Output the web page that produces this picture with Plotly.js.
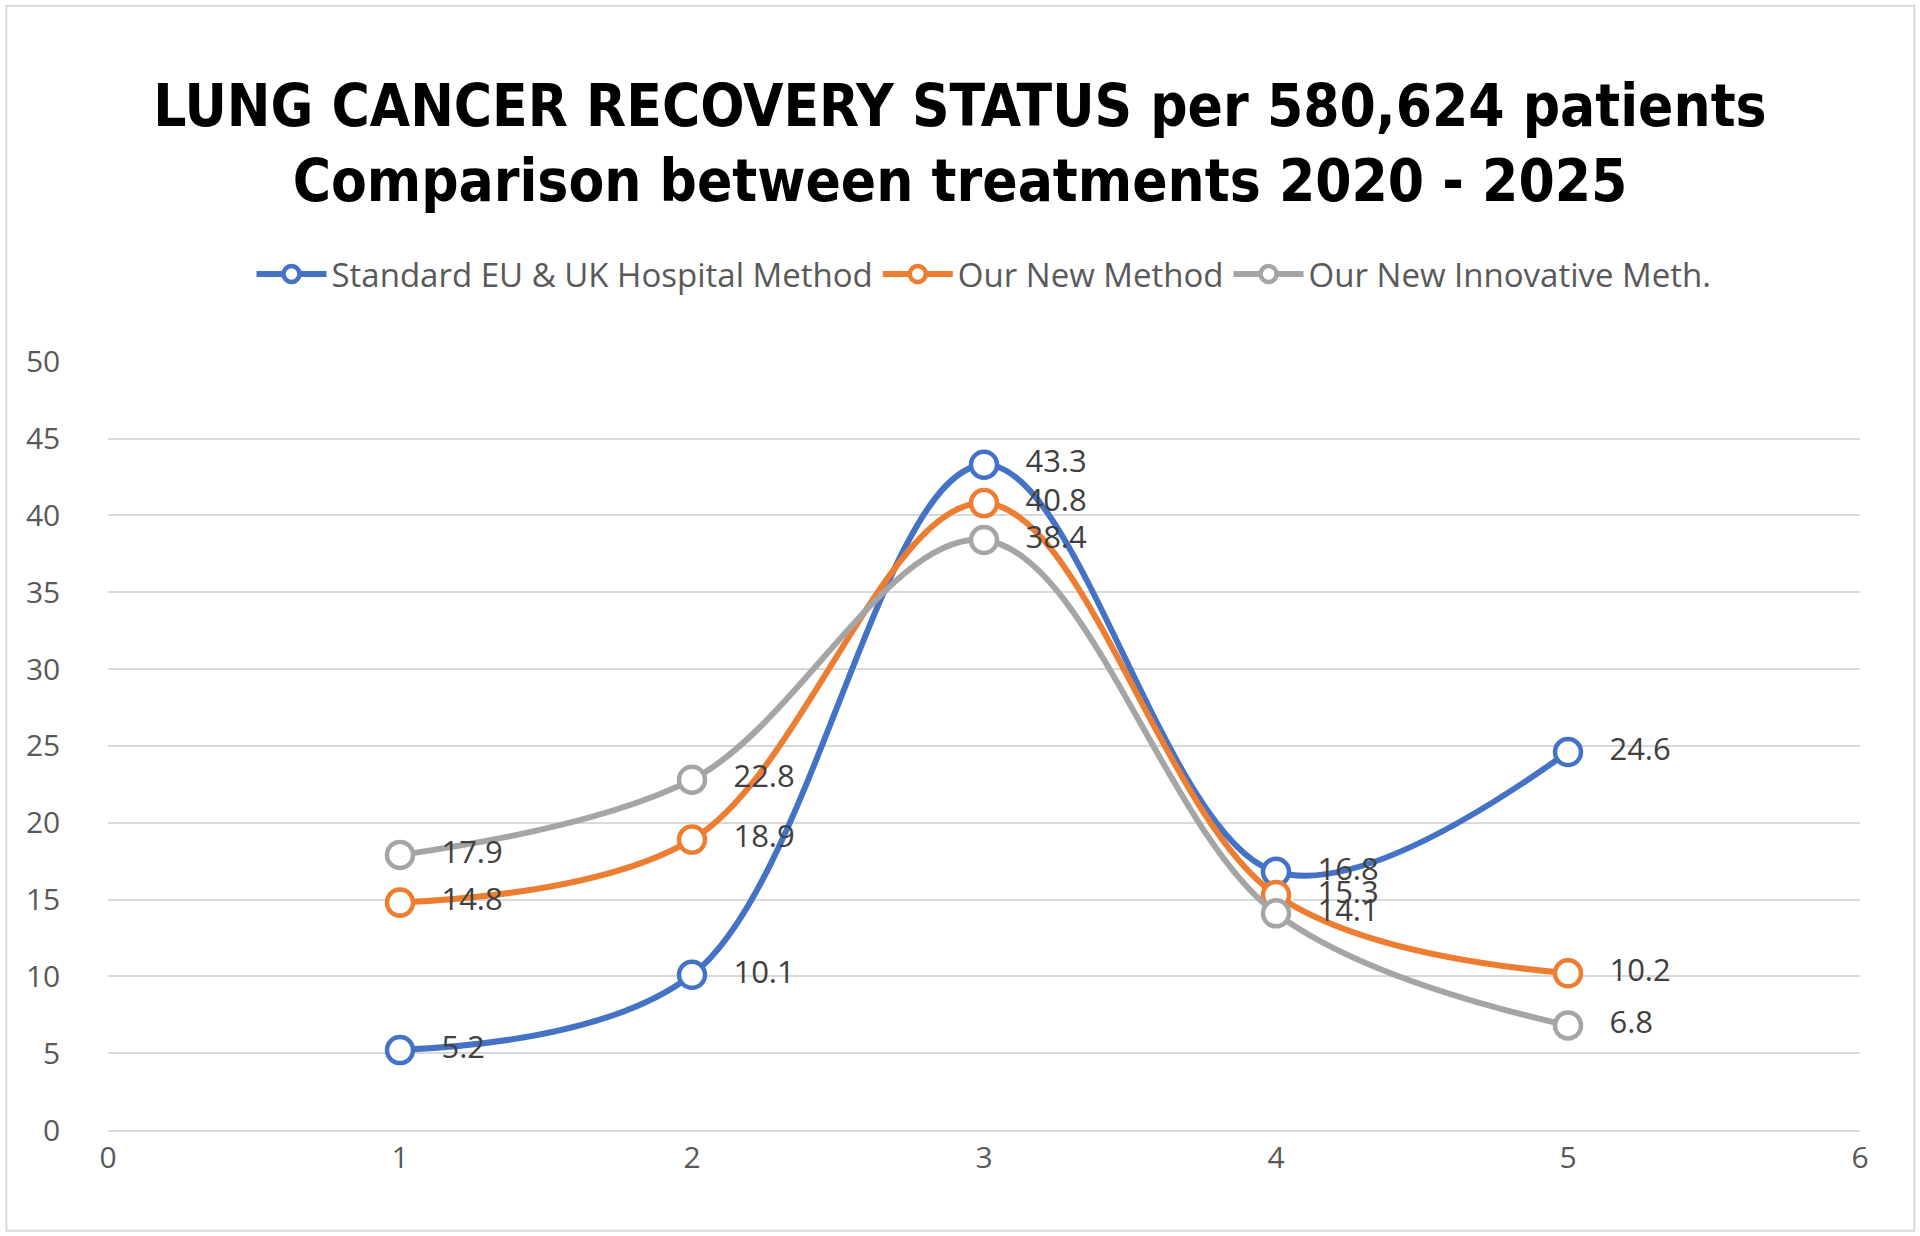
<!DOCTYPE html>
<html>
<head>
<meta charset="utf-8">
<script src="https://cdn.plot.ly/plotly-3.0.1.min.js"></script>
<style>html,body{margin:0;padding:0;background:#fff}#chart{width:1920px;height:1236px}</style>
</head>
<body>
<div id="chart"></div>
<script>
// datos del grafico
const puntosX = [1, 2, 3, 4, 5];
const metodoEstandar = [5.2, 10.1, 43.3, 16.8, 24.6];
const metodoNuevo = [14.8, 18.9, 40.8, 15.3, 10.2];
const metodoInnovador = [17.9, 22.8, 38.4, 14.1, 6.8];
const nombresSeries = ['Standard EU & UK Hospital Method', 'Our New Method', 'Our New Innovative Meth.'];
const coloresSeries = ['#4472C4', '#ED7D31', '#A5A5A5'];

function crearSerie(valores, i) {
    return {
        x: puntosX,
        y: valores,
        name: nombresSeries[i],
        type: 'scatter',
        mode: 'lines+markers+text',
        text: valores.map(v => '   ' + v.toFixed(1)),
        textposition: 'middle right',
        textfont: { color: '#404040', size: 31, family: 'Open Sans, sans-serif' },
        line: { color: coloresSeries[i], width: 6, shape: 'spline', smoothing: 1 },
        marker: { color: '#ffffff', size: 26, line: { color: coloresSeries[i], width: 4.5 } },
        cliponaxis: false
    };
}

const trazas = [metodoEstandar, metodoNuevo, metodoInnovador].map(crearSerie);

const layout = {
    width: 1920, height: 1236,
    paper_bgcolor: '#fff', plot_bgcolor: '#fff',
    margin: { l: 108, r: 60, t: 361, b: 106 },
    title: {
        text: '<b>LUNG CANCER RECOVERY STATUS per 580,624 patients<br>Comparison between treatments 2020 - 2025</b>',
        font: { family: 'Liberation Sans Narrow, DejaVu Sans Condensed, sans-serif', size: 58, color: '#000' },
        x: 0.5, xanchor: 'center', yref: 'container', y: 0.898, yanchor: 'middle'
    },
    showlegend: true,
    legend: {
        orientation: 'h', x: 0.5, xanchor: 'center', y: 1.113, yanchor: 'middle',
        font: { size: 33, color: '#595959', family: 'Open Sans, sans-serif' },
        itemwidth: 70
    },
    xaxis: {
        range: [0, 6], dtick: 1, showgrid: false, zeroline: false,
        showline: true, linecolor: '#d9d9d9', linewidth: 2,
        tickfont: { size: 30, color: '#595959', family: 'Open Sans, sans-serif' }, ticks: '', ticklen: 10
    },
    yaxis: {
        range: [0, 50.05], dtick: 5, showgrid: true, gridcolor: '#d9d9d9', gridwidth: 2, zeroline: false,
        tickfont: { size: 30, color: '#595959', family: 'Open Sans, sans-serif' }, ticksuffix: '      '
    },
    shapes: [{ type: 'rect', xref: 'paper', yref: 'paper', x0: -0.058, x1: 1.031, y0: -0.131, y1: 1.462,
        line: { color: '#d9d9d9', width: 2 } }]
};

Plotly.newPlot('chart', trazas, layout, { displayModeBar: false });
</script>
</body>
</html>
